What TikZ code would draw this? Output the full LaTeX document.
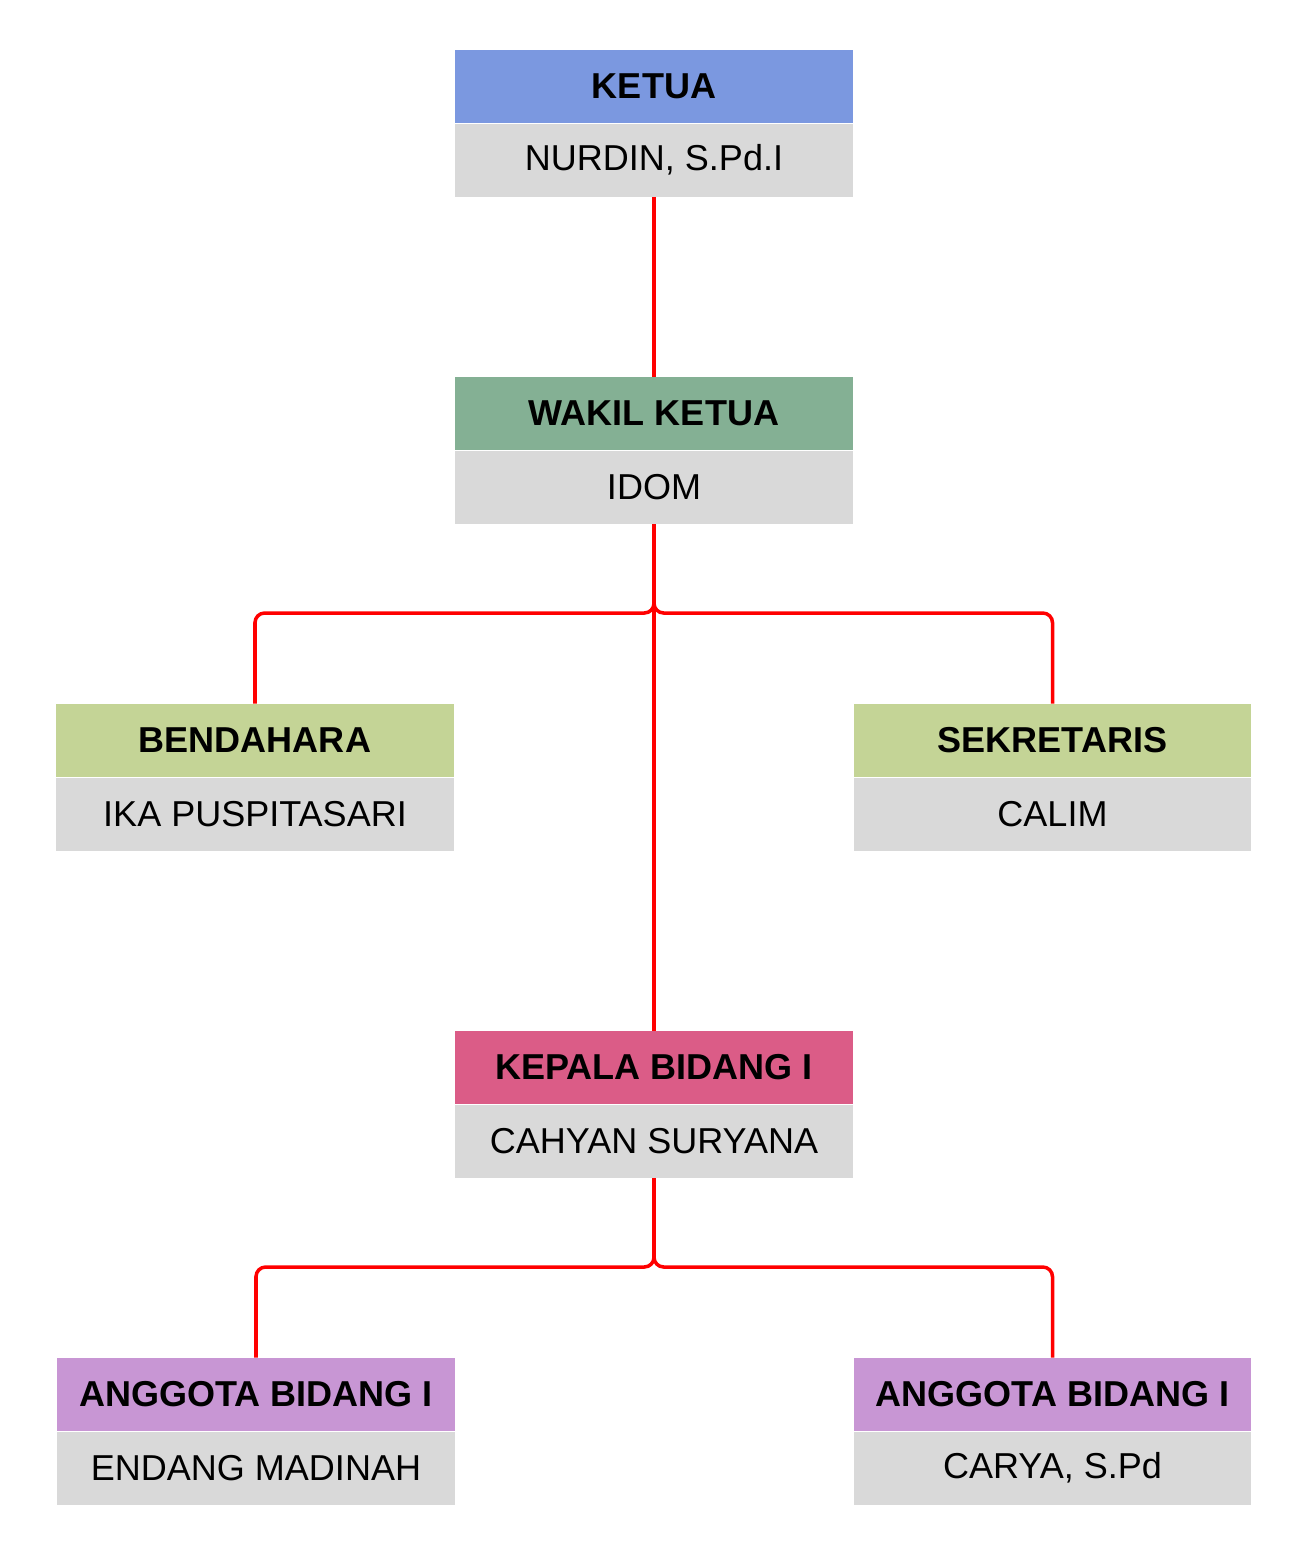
\documentclass[tikz,border=0pt]{standalone}
\usepackage{fontspec}
\setmainfont{Liberation Sans}
\usetikzlibrary{positioning}
\definecolor{cKetua}{HTML}{7B98E0}
\definecolor{cWakil}{HTML}{84B094}
\definecolor{cStaf}{HTML}{C4D496}
\definecolor{cKepala}{HTML}{DB5C87}
\definecolor{cAnggota}{HTML}{C896D4}
\definecolor{cNama}{HTML}{D9D9D9}
\tikzset{
  jabatan/.style={rectangle, minimum width=7.96cm, minimum height=1.46cm, inner sep=0pt, font=\fontsize{20.5}{24}\selectfont\bfseries},
  nama/.style={rectangle, fill=cNama, minimum width=7.96cm, minimum height=1.46cm, inner sep=0pt, font=\fontsize{20.5}{24}\selectfont},
  link/.style={red, line width=2pt, rounded corners=5.5pt}
}
\begin{document}
\begin{tikzpicture}[x=0.02cm, y=-0.02cm]
\useasboundingbox (0,0) rectangle (1309,1553);
\node [jabatan, fill=cKetua] (v0) at (654,86.5) {KETUA};
\node [nama, below=0pt of v0] (n0) {NURDIN, S.Pd.I};
\node [jabatan, fill=cWakil] (v1) at (654,413.5) {WAKIL KETUA};
\node [nama, below=0pt of v1] (n1) {IDOM};
\node [jabatan, fill=cStaf] (v2) at (255,740.5) {BENDAHARA};
\node [nama, below=0pt of v2] (n2) {IKA PUSPITASARI};
\node [jabatan, fill=cStaf] (v3) at (1052.5,740.5) {SEKRETARIS};
\node [nama, below=0pt of v3] (n3) {CALIM};
\node [jabatan, fill=cKepala] (v4) at (654,1067.5) {KEPALA BIDANG I};
\node [nama, below=0pt of v4] (n4) {CAHYAN SURYANA};
\node [jabatan, fill=cAnggota] (v5) at (256,1394.5) {ANGGOTA BIDANG I};
\node [nama, below=0pt of v5] (n5) {ENDANG MADINAH};
\node [jabatan, fill=cAnggota] (v6) at (1052.5,1394.5) {ANGGOTA BIDANG I};
\node [nama, below=0pt of v6] (n6) {CARYA, S.Pd};
\coordinate (j1) at (654,613);
\coordinate (j4) at (654,1267);
\draw [link] (n0.south) -- (v1.north);
\draw [link] (n1.south) -- (j1) -| (v2.north);
\draw [link] (n1.south) -- (j1) -| (v3.north);
\draw [link] (n1.south) -- (v4.north);
\draw [link] (n4.south) -- (j4) -| (v5.north);
\draw [link] (n4.south) -- (j4) -| (v6.north);
\end{tikzpicture}
\end{document}
